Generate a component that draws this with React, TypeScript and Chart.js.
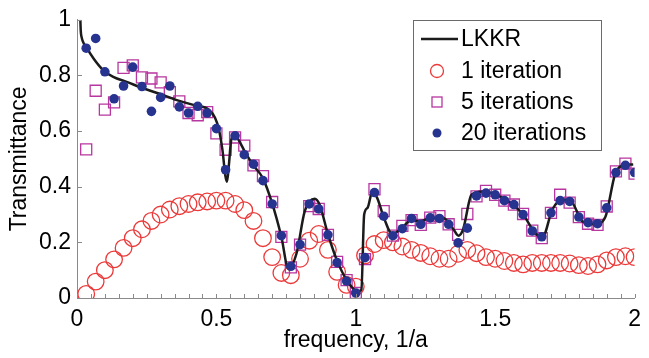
import React, { useEffect, useRef } from "react";
import { Chart, registerables } from "chart.js";

Chart.register(...registerables);

// ---- data ----
const freq = [
  0.033, 0.067, 0.1, 0.133, 0.167, 0.2, 0.233, 0.267, 0.3, 0.333,
  0.367, 0.4, 0.433, 0.467, 0.5, 0.533, 0.567, 0.6, 0.633, 0.667,
  0.7, 0.733, 0.767, 0.8, 0.833, 0.867, 0.9, 0.933, 0.967, 1.0,
  1.033, 1.067, 1.1, 1.133, 1.167, 1.2, 1.233, 1.267, 1.3, 1.333,
  1.367, 1.4, 1.433, 1.467, 1.5, 1.533, 1.567, 1.6, 1.633, 1.667,
  1.7, 1.733, 1.767, 1.8, 1.833, 1.867, 1.9, 1.933, 1.967, 2.0,
];

const iter1 = [
  0.015, 0.059, 0.1, 0.139, 0.18, 0.215, 0.247, 0.277, 0.3, 0.318,
  0.33, 0.338, 0.344, 0.347, 0.35, 0.35, 0.338, 0.316, 0.277, 0.215,
  0.147, 0.09, 0.082, 0.141, 0.206, 0.23, 0.173, 0.094, 0.047, 0.041,
  0.153, 0.194, 0.208, 0.2, 0.185, 0.173, 0.162, 0.15, 0.141, 0.141,
  0.159, 0.173, 0.161, 0.147, 0.141, 0.133, 0.126, 0.121, 0.126, 0.126,
  0.126, 0.126, 0.124, 0.118, 0.115, 0.121, 0.135, 0.147, 0.15, 0.147,
];

const iter5 = [
  0.534, 0.745, 0.677, 0.703, 0.827, 0.836, 0.793, 0.789, 0.775, 0.74,
  0.707, 0.665, 0.657, 0.668, 0.592, 0.533, 0.577, 0.548, 0.477, 0.438,
  0.345, 0.22, 0.11, 0.192, 0.33, 0.32, 0.227, 0.13, 0.064, 0.018,
  0.14, 0.391, 0.312, 0.224, 0.259, 0.28, 0.263, 0.289, 0.294, 0.265,
  0.227, 0.302, 0.365, 0.385, 0.371, 0.35, 0.336, 0.302, 0.242, 0.215,
  0.306, 0.371, 0.343, 0.291, 0.267, 0.263, 0.329, 0.455, 0.483, 0.447,
];

const iter20 = [
  0.898, 0.933, 0.813, 0.716, 0.762, 0.83, 0.76, 0.671, 0.721, 0.762,
  0.687, 0.665, 0.689, 0.665, 0.609, 0.461, 0.583, 0.515, 0.481, 0.422,
  0.338, 0.224, 0.114, 0.192, 0.338, 0.32, 0.227, 0.127, 0.061, 0.018,
  0.145, 0.379, 0.294, 0.224, 0.249, 0.286, 0.265, 0.288, 0.286, 0.265,
  0.198, 0.251, 0.367, 0.377, 0.371, 0.35, 0.336, 0.3, 0.241, 0.22,
  0.306, 0.35, 0.347, 0.291, 0.271, 0.267, 0.324, 0.451, 0.477, 0.451,
];

const lkkrX = [
  0.012, 0.0135, 0.016, 0.035, 0.06, 0.095, 0.13, 0.178, 0.237, 0.296,
  0.355, 0.414, 0.473, 0.495, 0.509, 0.522, 0.532, 0.538, 0.545, 0.552,
  0.562, 0.575, 0.6, 0.63, 0.667, 0.7, 0.733, 0.758, 0.787, 0.817,
  0.853, 0.87, 0.9, 0.935, 0.971, 1.006, 1.02, 1.03, 1.042, 1.06,
  1.077, 1.101, 1.131, 1.166, 1.2, 1.231, 1.267, 1.314, 1.35, 1.368,
  1.385, 1.415, 1.456, 1.504, 1.551, 1.6, 1.646, 1.67, 1.705, 1.741,
  1.776, 1.812, 1.859, 1.895, 1.93, 1.96, 1.995,
];
const lkkrY = [
  1.0, 0.96, 0.94, 0.9, 0.86, 0.818, 0.795, 0.777, 0.754, 0.734,
  0.712, 0.695, 0.677, 0.648, 0.606, 0.53, 0.44, 0.418, 0.48, 0.56,
  0.585, 0.575, 0.53, 0.48, 0.43, 0.34, 0.22, 0.106, 0.159, 0.312,
  0.357, 0.336, 0.23, 0.129, 0.059, 0.023, 0.03, 0.3, 0.324, 0.385,
  0.359, 0.288, 0.23, 0.253, 0.28, 0.275, 0.288, 0.288, 0.247, 0.224,
  0.247, 0.371, 0.383, 0.371, 0.345, 0.3, 0.23, 0.22, 0.318, 0.353,
  0.343, 0.276, 0.265, 0.291, 0.445, 0.477, 0.48,
];

const xTickLabels = [0, 0.5, 1, 1.5, 2];
const yTickLabels = [0, 0.2, 0.4, 0.6, 0.8, 1];
const xMinorStep = 0.05;

const seriesNames = ["LKKR", "1 iteration", "5 iterations", "20 iterations"];

// ---- styles ----
const FONT = "'Liberation Sans', Arial, Helvetica, sans-serif";
const AXIS_COLOR = "#8a8a8a";
const RED = "#ec3a3a";
const MAGENTA = "#b8369f";
const BLUE = "#27348f";
const BLACK = "#1b1b1b";

const pts = (xs: number[], ys: number[]) => xs.map((x, i) => ({ x, y: ys[i] }));

const decorPlugin = {
  id: "decor",
  afterDraw(chart: any) {
    const { ctx, chartArea, scales } = chart;
    const xs = scales.x;
    const ys = scales.y;
    ctx.save();
    // inward ticks
    ctx.strokeStyle = AXIS_COLOR;
    ctx.lineWidth = 1;
    ctx.beginPath();
    const nMinor = Math.round((xs.max - xs.min) / xMinorStep);
    for (let k = 0; k <= nMinor; k++) {
      const px = Math.round(xs.getPixelForValue(xs.min + k * xMinorStep)) + 0.5;
      ctx.moveTo(px, chartArea.bottom);
      ctx.lineTo(px, chartArea.bottom - 4);
    }
    for (const v of yTickLabels) {
      const py = Math.round(ys.getPixelForValue(v)) + 0.5;
      ctx.moveTo(chartArea.left, py);
      ctx.lineTo(chartArea.left + 5, py);
    }
    ctx.stroke();

    // legend box
    const bx = 413.5, by = 20.5, bw = 188, bh = 130;
    ctx.fillStyle = "#ffffff";
    ctx.fillRect(bx, by, bw, bh);
    ctx.strokeStyle = "#6a6a6a";
    ctx.lineWidth = 1;
    ctx.strokeRect(bx, by, bw, bh);

    const rows = [39, 71, 102, 133];
    const mx = 437;
    const tx = 461;
    ctx.font = `23px ${FONT}`;
    ctx.textBaseline = "middle";
    ctx.textAlign = "left";
    const dsets = chart.data.datasets;
    // LKKR line sample
    ctx.strokeStyle = BLACK;
    ctx.lineWidth = 2.5;
    ctx.beginPath();
    ctx.moveTo(421, rows[0]);
    ctx.lineTo(458, rows[0]);
    ctx.stroke();
    // circle
    ctx.strokeStyle = RED;
    ctx.lineWidth = 1.3;
    ctx.beginPath();
    ctx.arc(mx, rows[1], 6.5, 0, Math.PI * 2);
    ctx.stroke();
    // square
    ctx.strokeStyle = MAGENTA;
    ctx.lineWidth = 1.3;
    ctx.strokeRect(mx - 5, rows[2] - 5, 10, 10);
    // dot
    ctx.fillStyle = BLUE;
    ctx.beginPath();
    ctx.arc(mx, rows[3], 4.5, 0, Math.PI * 2);
    ctx.fill();

    ctx.fillStyle = "#000";
    for (let i = 0; i < 4; i++) {
      ctx.fillText(dsets[i].label, tx, rows[i] + 1);
    }
    ctx.restore();
  },
};

export default function App() {
  const canvasRef = useRef<HTMLCanvasElement | null>(null);

  useEffect(() => {
    const canvas = canvasRef.current;
    if (!canvas) return;
    const chart = new Chart(canvas, {
      type: "scatter",
      data: {
        datasets: [
          {
            label: seriesNames[0],
            data: pts(lkkrX, lkkrY),
            showLine: true,
            borderColor: BLACK,
            borderWidth: 2.5,
            pointRadius: 0,
            cubicInterpolationMode: "monotone",
            order: 1,
          } as any,
          {
            label: seriesNames[1],
            data: pts(freq, iter1),
            pointStyle: "circle",
            pointRadius: 8.3,
            borderColor: RED,
            borderWidth: 1.3,
            backgroundColor: "rgba(0,0,0,0)",
            order: 3,
          },
          {
            label: seriesNames[2],
            data: pts(freq, iter5),
            pointStyle: "rect",
            pointRadius: 7.8,
            borderColor: MAGENTA,
            borderWidth: 1.3,
            backgroundColor: "rgba(0,0,0,0)",
            order: 2,
          },
          {
            label: seriesNames[3],
            data: pts(freq, iter20),
            pointStyle: "circle",
            pointRadius: 4.8,
            borderColor: BLUE,
            borderWidth: 0,
            backgroundColor: BLUE,
            order: 0,
          },
        ],
      },
      options: {
        responsive: false,
        animation: false,
        events: [],
        layout: { padding: { left: 0, right: 9, top: 15, bottom: 0 } },
        plugins: {
          legend: { display: false },
          tooltip: { enabled: false },
        },
        scales: {
          x: {
            type: "linear",
            min: 0,
            max: 2,
            afterBuildTicks: (scale: any) => {
              scale.ticks = xTickLabels.map((v) => ({ value: v }));
            },
            ticks: {
              font: { family: FONT, size: 23 },
              color: "#000",
              padding: 8,
              maxRotation: 0,
              callback: (v: any) => String(v),
            },
            grid: { display: true, drawOnChartArea: false, drawTicks: false },
            border: { display: true, color: AXIS_COLOR, width: 1 },
            title: {
              display: true,
              text: "frequency, 1/a",
              font: { family: FONT, size: 23 },
              color: "#000",
              padding: { top: 0, bottom: 4 },
            },
            afterFit: (scale: any) => {
              scale.height = 60;
            },
          },
          y: {
            type: "linear",
            min: 0,
            max: 1,
            afterBuildTicks: (scale: any) => {
              scale.ticks = yTickLabels.map((v) => ({ value: v }));
            },
            ticks: {
              font: { family: FONT, size: 23 },
              color: "#000",
              padding: 6,
              callback: (v: any) => String(v),
            },
            grid: { display: true, drawOnChartArea: false, drawTicks: false },
            border: { display: true, color: AXIS_COLOR, width: 1 },
            title: {
              display: true,
              text: "Transmittance",
              font: { family: FONT, size: 23 },
              color: "#000",
              padding: { top: 6, bottom: 0 },
            },
            afterFit: (scale: any) => {
              scale.width = 77;
            },
          },
        },
      },
      plugins: [decorPlugin],
    });
    return () => chart.destroy();
  }, []);

  return (
    <div style={{ position: "fixed", left: 0, top: 0, width: 649, height: 358, background: "#fff" }}>
      <canvas ref={canvasRef} width={649} height={358} style={{ display: "block" }} />
    </div>
  );
}
